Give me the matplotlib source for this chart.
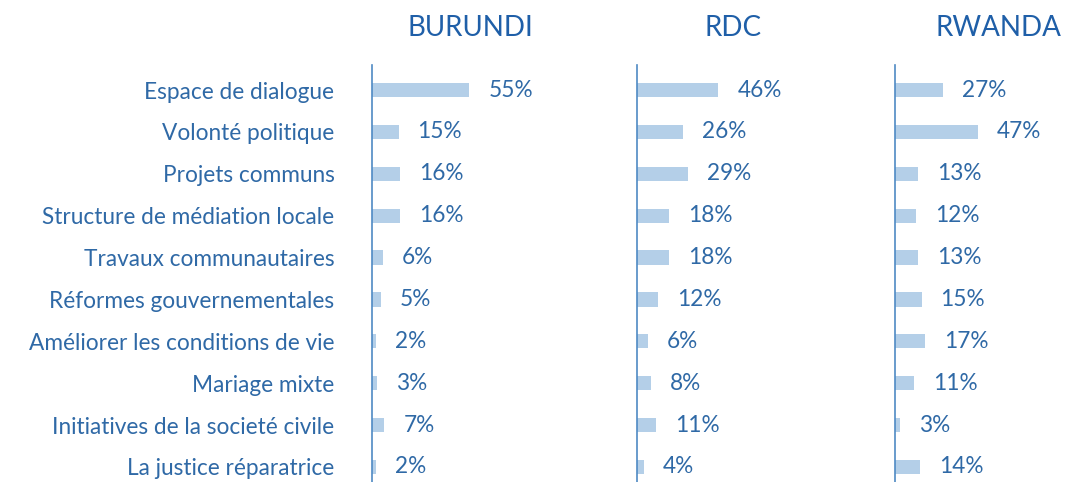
import matplotlib
matplotlib.use("Agg")
import matplotlib.pyplot as plt

categories = [
    "Espace de dialogue",
    "Volonté politique",
    "Projets communs",
    "Structure de médiation locale",
    "Travaux communautaires",
    "Réformes gouvernementales",
    "Améliorer les conditions de vie",
    "Mariage mixte",
    "Initiatives de la societé civile",
    "La justice réparatrice",
]
countries = ["BURUNDI", "RDC", "RWANDA"]
burundi = [55, 15, 16, 16, 6, 5, 2, 3, 7, 2]
rdc = [46, 26, 29, 18, 18, 12, 6, 8, 11, 4]
rwanda = [27, 47, 13, 12, 13, 15, 17, 11, 3, 14]
series = [burundi, rdc, rwanda]

plt.rcParams['font.family'] = ['Lato', 'DejaVu Sans']

W, H = 1067, 482
fig = plt.figure(figsize=(W / 100, H / 100), dpi=100)

text_col = "#2f69a6"
bar_col = "#b4cfe8"
axis_col = "#4f8ac4"

px_per_pct = 1.77
lefts = [372, 637, 895]
title_x = [470, 733, 998]
ax_w = 165
ax_top, ax_bot = 65, 482
ypos = list(range(len(categories)))

for i, (vals, name) in enumerate(zip(series, countries)):
    ax = fig.add_axes([lefts[i] / W, (H - ax_bot) / H, ax_w / W, (ax_bot - ax_top) / H])
    ax.barh(ypos, vals, height=0.34, color=bar_col, edgecolor="none")
    ax.set_xlim(0, ax_w / px_per_pct)
    ax.set_ylim(9.36, -0.6)
    for s in ["top", "right", "bottom"]:
        ax.spines[s].set_visible(False)
    ax.spines["left"].set_color(axis_col)
    ax.spines["left"].set_linewidth(1.2)
    ax.set_xticks([])
    if i == 0:
        ax.set_yticks(ypos)
        ax.set_yticklabels(categories, fontsize=16.3, color=text_col)
        ax.tick_params(axis="y", length=0, pad=27)
    else:
        ax.set_yticks([])
    for y, v in zip(ypos, vals):
        ax.annotate(f"{v}%", (v, y), xytext=(19, 0), textcoords="offset pixels",
                    ha="left", va="center", fontsize=16.3, color=text_col)
    fig.text(title_x[i] / W, 1 - 28 / H, name, ha="center", va="center",
             fontsize=20, color="#1f5fa8")

fig.savefig("out.png", dpi=100)
